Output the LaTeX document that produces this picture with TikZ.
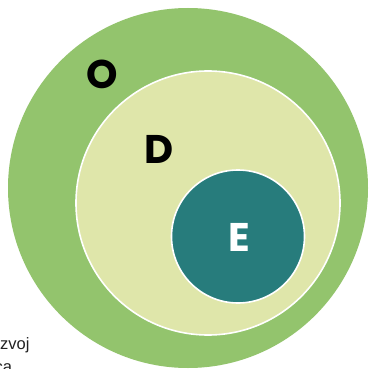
\documentclass[tikz,border=0pt]{standalone}
\usepackage{fontspec}
\setmainfont{Liberation Sans}
\newfontfamily\popfont{Poppins}
\definecolor{outergreen}{HTML}{93C46D}
\definecolor{innerlight}{HTML}{DFE6AA}
\definecolor{tealc}{HTML}{277C7C}
\definecolor{smalltext}{HTML}{222222}
\tikzset{
  ring/.style={draw=white, line width=1.6pt},
  biglabel/.style={inner sep=0pt, font=\popfont\bfseries\fontsize{40}{40}\selectfont},
  sidetext/.style={inner sep=0pt, anchor=base west, text=smalltext, font=\fontsize{16.5}{20}\selectfont}
}
\begin{document}
\begin{tikzpicture}[x=1pt,y=-1pt]
\useasboundingbox (0,0) rectangle (369,369);
\clip (0,0) rectangle (369,369);
\fill[white] (0,0) rectangle (369,369);
\path[fill=outergreen] (188,188) circle[radius=180] coordinate (oc);
\path[fill=innerlight, ring] (208,203) circle[radius=132];
\path[fill=tealc, ring] (238,236.5) circle[radius=66.5];
\node[biglabel, text=black] (lo) at (102,74) {O};
\node[biglabel, text=black] (ld) at (159,149) {D};
\node[biglabel, text=white] (le) at (239,237) {E};
\node[sidetext] (t1) at (0,349) {zvoj};
\node[sidetext] (t2) at (-5.5,372) {ca};
\end{tikzpicture}
\end{document}
